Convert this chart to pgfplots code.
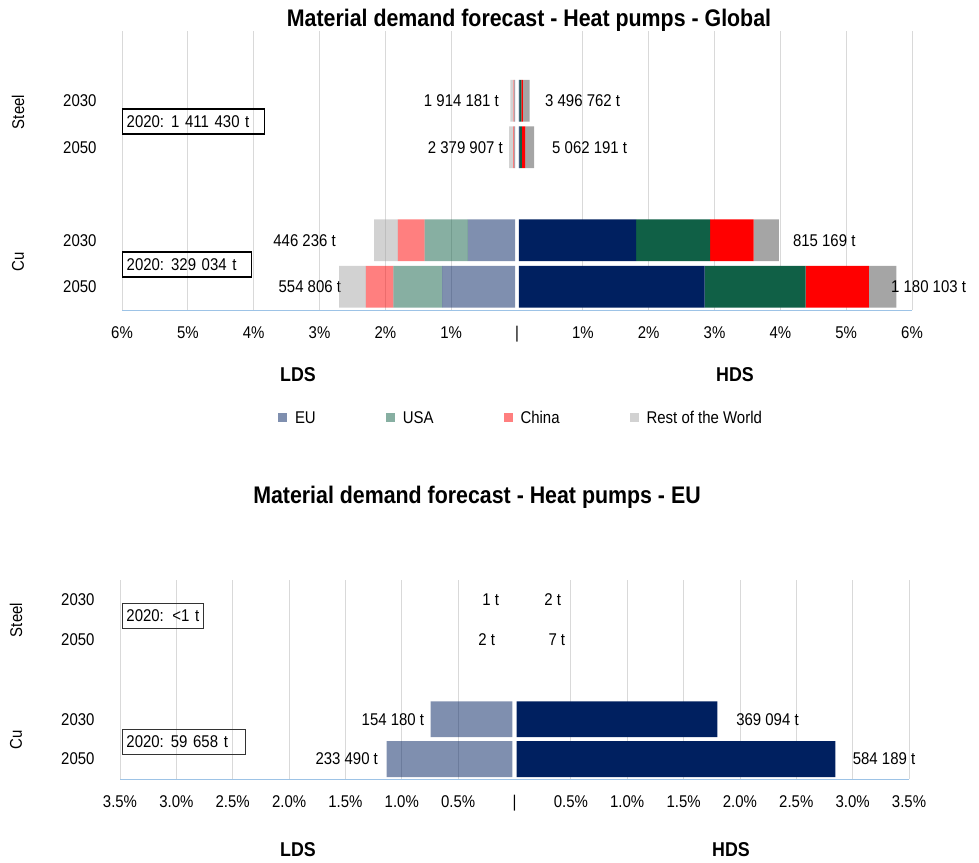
\documentclass[border=0pt]{standalone}
\usepackage{pgfplots}
\pgfplotsset{compat=1.18}
\usepackage{pgfplotstable}
\usepackage{fontspec}
\setmainfont{Liberation Sans}[FakeStretch=0.88]
\newfontfamily\titlefont{Liberation Sans}[FakeStretch=0.89]
\definecolor{navy}{HTML}{002060}
\definecolor{dgreen}{HTML}{106046}
\definecolor{redc}{HTML}{FF0000}
\definecolor{grayc}{HTML}{A5A5A5}
\definecolor{gridc}{HTML}{D9D9D9}
\definecolor{axblue}{HTML}{9DC3E6}
\newcommand\fs{\fontsize{17}{20}\selectfont}

% Global, High demand scenario (percent), stacked outward from centre
\pgfplotstableread{
y gap EU USA China RoW
0 0.03 2.818 1.534 0.963 0.418
1 0.03 1.780 1.123 0.662 0.384
3 0.03 0.010 0.035 0.050 0.135
4 0.03 0.005 0.030 0.025 0.100
}\globalHDS
% Global, Low demand scenario (percent, drawn to the left)
\pgfplotstableread{
y gap EU USA China RoW
0 -0.03 -1.109 -0.740 -0.418 -0.406
1 -0.03 -0.718 -0.656 -0.404 -0.363
3 -0.03 -0.005 -0.005 -0.020 -0.060
4 -0.03 -0.005 -0.005 -0.015 -0.045
}\globalLDS
% EU
\pgfplotstableread{
y gap EU
0 0.018 2.828
1 0.018 1.782
}\euHDS
\pgfplotstableread{
y gap EU
0 -0.018 -1.117
1 -0.018 -0.727
}\euLDS

\tikzset{vl/.style={font=\fs, inner sep=0pt}}
\pgfplotsset{
  common/.style={
    scale only axis, clip=false,
    xbar stacked, bar width=0.9,
    major tick length=0pt,
    tick label style={font=\fs},
  },
  frame/.style={
    axis x line*=bottom, axis y line*=left,
    y axis line style={draw=none},
    x axis line style={draw=axblue, line width=1pt, -},
    xmajorgrids, grid style={gridc, line width=0.8pt},
    extra x ticks={0}, extra x tick labels={|}, extra x tick style={grid=none},
    xticklabel style={yshift=-13pt},
    yticklabel style={xshift=-22pt},
  },
}

\begin{document}
\begin{tikzpicture}
\useasboundingbox (0,0) rectangle (979pt,-862pt);

% ---------------- Global chart ----------------
\begin{axis}[common, frame,
  at={(122pt,-310pt)}, anchor=south west,
  width=790pt, height=279pt,
  xmin=-6, xmax=6, ymin=-0.5, ymax=5.5,
  xtick={-6,-5,-4,-3,-2,-1,1,2,3,4,5,6},
  xticklabels={6\%,5\%,4\%,3\%,2\%,1\%,1\%,2\%,3\%,4\%,5\%,6\%},
  ytick={0,1,3,4}, yticklabels={2050,2030,2050,2030},
]
\addplot[draw=none, fill=none, forget plot] table[x=gap,y=y]{\globalHDS};
\addplot[draw=none, fill=navy] table[x=EU,y=y]{\globalHDS};
\addplot[draw=none, fill=dgreen] table[x=USA,y=y]{\globalHDS};
\addplot[draw=none, fill=redc] table[x=China,y=y]{\globalHDS};
\addplot[draw=none, fill=grayc] table[x=RoW,y=y]{\globalHDS};
\end{axis}

\begin{axis}[common, hide axis,
  at={(122pt,-310pt)}, anchor=south west,
  width=790pt, height=279pt,
  xmin=-6, xmax=6, ymin=-0.5, ymax=5.5,
  legend columns=4,
  legend style={at={(0.505,-0.387)}, anchor=center, draw=none, fill=none,
    font=\fs,
    /tikz/every odd column/.append style={column sep=6pt},
    /tikz/every even column/.append style={column sep=68pt}},
  legend image code/.code={\fill[#1,draw=none] (0pt,-4.5pt) rectangle (9pt,4.5pt);},
]
\addplot[draw=none, fill=none, forget plot] table[x=gap,y=y]{\globalLDS};
\addplot[draw=none, fill=navy, fill opacity=0.5] table[x=EU,y=y]{\globalLDS};
\addlegendentry{EU}
\addplot[draw=none, fill=dgreen, fill opacity=0.5] table[x=USA,y=y]{\globalLDS};
\addlegendentry{USA}
\addplot[draw=none, fill=redc, fill opacity=0.5] table[x=China,y=y]{\globalLDS};
\addlegendentry{China}
\addplot[draw=none, fill=grayc, fill opacity=0.5] table[x=RoW,y=y]{\globalLDS};
\addlegendentry{Rest of the World}
\node[vl, anchor=east] at (axis cs:-0.273,4) {1 914 181 t};
\node[vl, anchor=west] at (axis cs:0.425,4) {3 496 762 t};
\node[vl, anchor=east] at (axis cs:-0.213,3) {2 379 907 t};
\node[vl, anchor=west] at (axis cs:0.532,3) {5 062 191 t};
\node[vl, anchor=east] at (axis cs:-2.75,1) {446 236 t};
\node[vl, anchor=west] at (axis cs:4.19,1) {815 169 t};
\node[vl, anchor=east] at (axis cs:-2.67,0) {554 806 t};
\node[vl, anchor=west] at (axis cs:5.68,0) {1 180 103 t};
\end{axis}

% ---------------- EU chart ----------------
\begin{axis}[common, frame,
  at={(120pt,-779pt)}, anchor=south west,
  width=789pt, height=199pt,
  xmin=-3.5, xmax=3.5, ymin=-0.5, ymax=4.5,
  xtick={-3.5,-3,-2.5,-2,-1.5,-1,-0.5,0.5,1,1.5,2,2.5,3,3.5},
  xticklabels={3.5\%,3.0\%,2.5\%,2.0\%,1.5\%,1.0\%,0.5\%,0.5\%,1.0\%,1.5\%,2.0\%,2.5\%,3.0\%,3.5\%},
  ytick={0,1,3,4}, yticklabels={2050,2030,2050,2030},
]
\addplot[draw=none, fill=none, forget plot] table[x=gap,y=y]{\euHDS};
\addplot[draw=none, fill=navy] table[x=EU,y=y]{\euHDS};
\end{axis}

\begin{axis}[common, hide axis,
  at={(120pt,-779pt)}, anchor=south west,
  width=789pt, height=199pt,
  xmin=-3.5, xmax=3.5, ymin=-0.5, ymax=4.5,
]
\addplot[draw=none, fill=none, forget plot] table[x=gap,y=y]{\euLDS};
\addplot[draw=none, fill=navy, fill opacity=0.5] table[x=EU,y=y]{\euLDS};
\node[vl, anchor=east] at (axis cs:-0.136,4) {1 t};
\node[vl, anchor=west] at (axis cs:0.263,4) {2 t};
\node[vl, anchor=east] at (axis cs:-0.171,3) {2 t};
\node[vl, anchor=west] at (axis cs:0.30,3) {7 t};
\node[vl, anchor=east] at (axis cs:-0.80,1) {154 180 t};
\node[vl, anchor=west] at (axis cs:1.966,1) {369 094 t};
\node[vl, anchor=east] at (axis cs:-1.21,0) {233 490 t};
\node[vl, anchor=west] at (axis cs:3.0,0) {584 189 t};
\end{axis}

% ---------------- Annotations ----------------
\node[font=\titlefont\bfseries\fontsize{24}{28}\selectfont] at (529pt,-20pt) {Material demand forecast - Heat pumps - Global};
\node[font=\titlefont\bfseries\fontsize{24}{28}\selectfont] at (477pt,-497pt) {Material demand forecast - Heat pumps - EU};

\node[font=\titlefont\bfseries\fontsize{20}{24}\selectfont] at (298pt,-375pt) {LDS};
\node[font=\titlefont\bfseries\fontsize{20}{24}\selectfont] at (735pt,-375pt) {HDS};
\node[font=\titlefont\bfseries\fontsize{20}{24}\selectfont] at (298pt,-850pt) {LDS};
\node[font=\titlefont\bfseries\fontsize{20}{24}\selectfont] at (731pt,-850pt) {HDS};

\node[font=\fs, rotate=90] at (18pt,-112pt) {Steel};
\node[font=\fs, rotate=90] at (18pt,-262pt) {Cu};
\node[font=\fs, rotate=90] at (16pt,-620pt) {Steel};
\node[font=\fs, rotate=90] at (16pt,-740pt) {Cu};

\tikzset{bx/.style={font=\fs, anchor=west, inner xsep=4pt, inner ysep=0pt, minimum height=25pt, align=left}}
\node[bx, draw=black, line width=1.4pt, text width=134pt] at (122pt,-121.5pt) {2020:\hspace{7pt}1 411 430 t};
\node[bx, draw=black, line width=1.4pt, text width=121pt] at (122pt,-264.5pt) {2020:\hspace{7pt}329 034 t};
\node[bx, draw=black!80, line width=0.9pt, text width=73pt] at (122pt,-616pt) {2020: <1 t};
\node[bx, draw=black!80, line width=0.9pt, text width=115pt] at (122pt,-742pt) {2020:\hspace{7pt}59 658 t};
\end{tikzpicture}
\end{document}
